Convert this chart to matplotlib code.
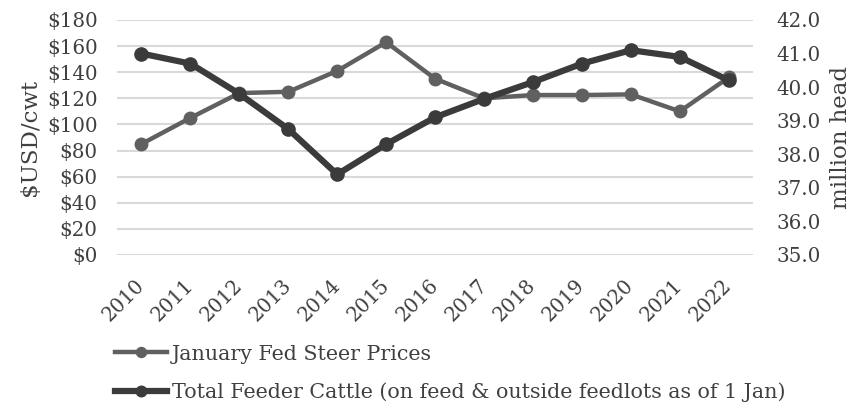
import matplotlib.pyplot as plt
from matplotlib.ticker import FuncFormatter

plt.rcParams['font.family'] = ['DejaVu Serif']

# data
years = ['2010', '2011', '2012', '2013', '2014', '2015', '2016',
         '2017', '2018', '2019', '2020', '2021', '2022']
steer_prices = [85, 105, 124, 125, 141, 163, 135, 120, 122.5, 122.5, 123, 110, 136]
feeder_cattle = [41.0, 40.7, 39.8, 38.75, 37.4, 38.3, 39.1,
                 39.65, 40.15, 40.7, 41.1, 40.9, 40.2]

c_steer = '#606060'
c_cattle = '#3b3b3b'
c_text = '#404040'
fs = 14.3

fig = plt.figure(figsize=(8.54, 4.04), dpi=100)
ax = fig.add_axes([0.137, 0.369, 0.745, 0.5815])
ax2 = ax.twinx()

x = list(range(len(years)))
l1, = ax.plot(x, steer_prices, color=c_steer, lw=3.2, marker='o', ms=9,
              label='January Fed Steer Prices', zorder=3)
l2, = ax2.plot(x, feeder_cattle, color=c_cattle, lw=4.5, marker='o', ms=9.5,
               label='Total Feeder Cattle (on feed & outside feedlots as of 1 Jan)', zorder=3)

ax.set_xlim(-0.5, 12.5)
ax.set_ylim(0, 180)
ax.set_yticks(range(0, 181, 20))
ax.yaxis.set_major_formatter(FuncFormatter(lambda v, p: '$%d' % v))
ax2.set_ylim(35, 42)
ax2.set_yticks([35, 36, 37, 38, 39, 40, 41, 42])
ax2.yaxis.set_major_formatter(FuncFormatter(lambda v, p: '%.1f' % v))

ax.set_xticks(x)
ax.set_xticklabels(years, rotation=45, ha='right', va='center',
                   rotation_mode='anchor')
ax.grid(axis='y', color='#d9d9d9', lw=1.5)
ax.set_axisbelow(True)

for a in (ax, ax2):
    for s in a.spines.values():
        s.set_visible(False)
    a.tick_params(length=0, labelsize=fs, colors=c_text)
ax.tick_params(axis='y', pad=14)
ax2.tick_params(axis='y', pad=17)
ax.tick_params(axis='x', pad=20)

ax.set_ylabel('$USD/cwt', fontsize=16.5, color=c_text, labelpad=4)
ax2.set_ylabel('million head', fontsize=16.5, color=c_text, labelpad=6)

fig.legend(handles=[l1, l2], loc='upper left', bbox_to_anchor=(0.135, 0.147),
           frameon=False, fontsize=14.9, handlelength=2.5, handletextpad=0.25,
           labelspacing=0.9, borderaxespad=0, borderpad=0, markerscale=0.8,
           labelcolor=c_text)

plt.savefig('out.png', dpi=100)
